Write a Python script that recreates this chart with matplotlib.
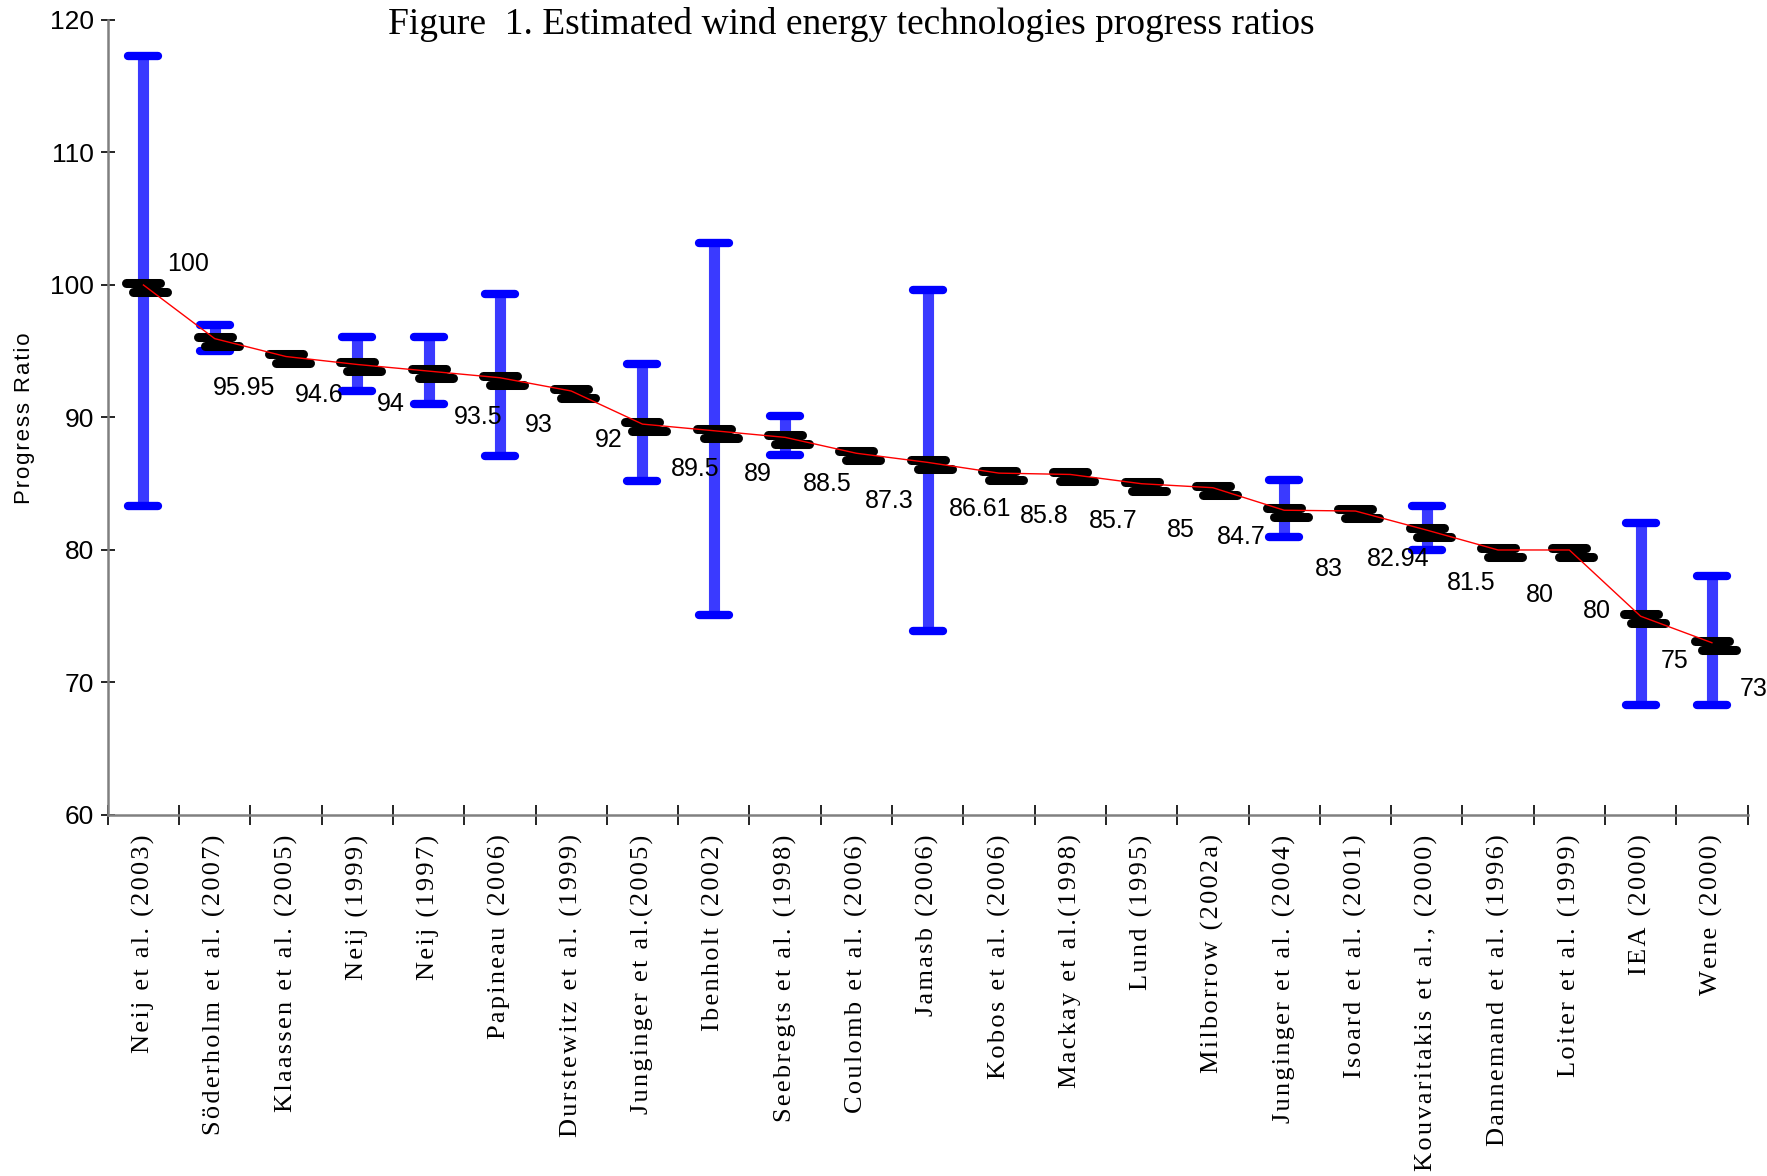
import matplotlib
matplotlib.use('Agg')
import matplotlib.pyplot as plt
from matplotlib.markers import MarkerStyle
from matplotlib import transforms, font_manager
import numpy as np

# studies along the x axis
studies = ['Neij et al. (2003)', 'Söderholm et al. (2007)', 'Klaassen et al. (2005)',
           'Neij (1999)', 'Neij (1997)', 'Papineau (2006)', 'Durstewitz et al. (1999)',
           'Junginger et al.(2005)', 'Ibenholt (2002)', 'Seebregts et al. (1998)',
           'Coulomb et al. (2006)', 'Jamasb (2006)', 'Kobos et al. (2006)',
           'Mackay et al.(1998)', 'Lund (1995)', 'Milborrow (2002a)',
           'Junginger et al. (2004)', 'Isoard et al. (2001)', 'Kouvaritakis et al., (2000)',
           'Dannemand et al. (1996)', 'Loiter et al. (1999)', 'IEA (2000)', 'Wene (2000)']
# progress ratio (mean) and the printed value
pr = [100, 95.95, 94.6, 94, 93.5, 93, 92, 89.5, 89, 88.5, 87.3, 86.61, 85.8, 85.7,
      85, 84.7, 83, 82.94, 81.5, 80, 80, 75, 73]
pr_text = ['100', '95.95', '94.6', '94', '93.5', '93', '92', '89.5', '89', '88.5', '87.3',
           '86.61', '85.8', '85.7', '85', '84.7', '83', '82.94', '81.5', '80', '80', '75', '73']
# range of estimates (nan = no range given)
nan = np.nan
pr_high = [117.3, 97.0, nan, 96.1, 96.1, 99.3, nan, 94.0, 103.2, 90.1, nan, 99.6,
           nan, nan, nan, nan, 85.3, nan, 83.3, nan, nan, 82.0, 78.0]
pr_low = [83.3, 95.0, nan, 92.0, 91.0, 87.1, nan, 85.2, 75.1, 87.2, nan, 73.9,
          nan, nan, nan, nan, 81.0, nan, 80.0, nan, nan, 68.3, 68.3]

# where the value labels sit relative to their point (categories, units)
lab_dx = [0.63, 0.41, 0.47, 0.47, 0.70, 0.54, 0.52, 0.74, 0.62, 0.59, 0.46, 0.74,
          0.63, 0.60, 0.55, 0.40, 0.63, 0.60, 0.63, 0.59, 0.38, 0.47, 0.59]
lab_dy = [1.6, -3.7, -2.9, -3.0, -3.5, -3.6, -3.7, -3.4, -3.3, -3.5, -3.6, -3.5,
          -3.2, -3.5, -3.5, -3.7, -4.4, -3.6, -4.0, -3.4, -4.6, -3.4, -3.5]

names = {f.name for f in font_manager.fontManager.ttflist}
if 'Liberation Sans Narrow' in names:
    sans = ['Liberation Sans Narrow', 'DejaVu Sans']
    nsize = 22
else:
    sans = ['Liberation Sans', 'DejaVu Sans']
    nsize = 19
serif = ['Liberation Serif', 'DejaVu Serif']


def spaced(s, sep='\u200a'):
    return sep.join(s)


x = np.arange(len(studies))

fig = plt.figure(figsize=(17.67, 11.76), dpi=100)
ax = fig.add_axes([0.061, 0.307, 0.928, 0.676])

# error ranges
ax.vlines(x, pr_low, pr_high, color='#3a3aff', lw=8, zorder=2)
cap = MarkerStyle('_', capstyle='round')
ax.plot(x, pr_high, ls='none', marker=cap, ms=22, mew=6, color='#0000ff', zorder=3)
ax.plot(x, pr_low, ls='none', marker=cap, ms=22, mew=6, color='#0000ff', zorder=3)

# double black bar at each estimate
bar = MarkerStyle('_', capstyle='round')
up = transforms.offset_copy(ax.transData, fig=fig, x=0, y=1.5, units='points')
dn = transforms.offset_copy(ax.transData, fig=fig, x=5, y=-5, units='points')
ax.plot(x, pr, ls='none', marker=bar, ms=24, mew=6.5, color='black', transform=up, zorder=4)
ax.plot(x, pr, ls='none', marker=bar, ms=24, mew=6.5, color='black', transform=dn, zorder=4)

ax.plot(x, pr, color='red', lw=1, zorder=5)

for i in range(len(pr)):
    ax.text(x[i] + lab_dx[i], pr[i] + lab_dy[i], pr_text[i], ha='center', va='center',
            fontsize=nsize - 1, family=sans, zorder=6)

ax.set_xlim(-0.5, len(studies) - 0.5)
ax.set_ylim(60, 120)
ax.set_yticks(range(60, 121, 10))
ax.set_xticks(x)
ax.set_xticklabels([spaced(s) for s in studies], rotation=90, fontsize=19, family=serif)
ax.set_xticks(np.arange(-0.5, len(studies), 1), minor=True)
ax.tick_params(axis='x', which='major', length=0, pad=14)
ax.tick_params(axis='x', which='minor', length=15, width=1.2, direction='inout', color='black')
ax.tick_params(axis='y', length=10, width=1.2, direction='inout', color='black', pad=5)
for t in ax.get_yticklabels():
    t.set_family(sans)
    t.set_fontsize(nsize)

for s in ['top', 'right']:
    ax.spines[s].set_visible(False)
for s in ['left', 'bottom']:
    ax.spines[s].set_color('#808080')
    ax.spines[s].set_linewidth(1.8)

fig.text(0.482, 0.979, 'Figure  1. Estimated wind energy technologies progress ratios',
         ha='center', va='center', fontsize=27, family=serif)
fig.text(0.0136, 0.644, spaced('Progress Ratio'), rotation=90, ha='center', va='center',
         fontsize=16, family=['Liberation Sans', 'DejaVu Sans'])

fig.savefig('out.png', dpi=100)
